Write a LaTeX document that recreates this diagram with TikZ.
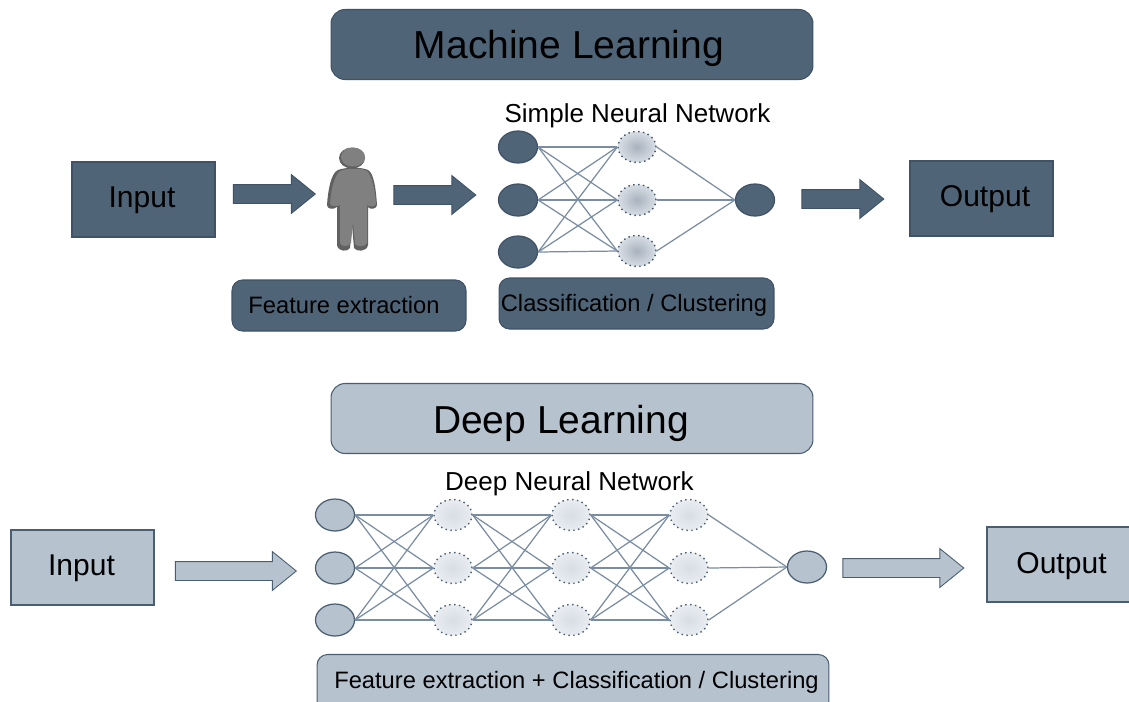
\documentclass[tikz,border=0pt]{standalone}
\usepackage{fontspec}
\setmainfont{Liberation Sans}
\usetikzlibrary{shapes.arrows,shapes.geometric}
\definecolor{mldark}{HTML}{506478}
\definecolor{mlline}{HTML}{3F5266}
\definecolor{dllight}{HTML}{B7C2CF}
\definecolor{dlline}{HTML}{4A5E72}
\definecolor{edgeblue}{HTML}{7A8DA2}
\tikzset{
  titlebox/.style={draw=#1, rounded corners=8pt, line width=0.6pt, minimum width=9.64cm, minimum height=1.4cm, inner sep=0pt},
  iobox/.style={draw=#1, line width=0.6pt, minimum width=2.86cm, minimum height=1.5cm, inner sep=0pt},
  infobox/.style={draw=#1, rounded corners=6pt, line width=0.6pt, inner sep=0pt},
  blockarrow/.style={single arrow, draw=#1, line width=0.5pt, inner xsep=0pt, inner ysep=0.18cm, single arrow head extend=0.2cm, single arrow tip angle=78, minimum height=1.64cm, anchor=center},
  inneuron/.style={ellipse, draw=#1, line width=0.7pt, minimum width=0.78cm, minimum height=0.64cm, inner sep=0pt},
  midneuron/.style={ellipse, draw=#1, dotted, line width=0.8pt, minimum width=0.76cm, minimum height=0.62cm, inner sep=0pt},
  edge/.style={draw=edgeblue, line width=0.7pt},
  titletext/.style={font=\fontsize{22.2}{24}\selectfont, text=black},
  iotext/.style={font=\fontsize{17.1}{20}\selectfont, text=black},
  nettext/.style={font=\fontsize{14.8}{18}\selectfont, text=black},
  smalltext/.style={font=\fontsize{13.5}{16}\selectfont, text=black},
}
\begin{document}
\begin{tikzpicture}[x=0.02cm, y=-0.02cm]
  \clip (0,0) rectangle (1129,701);
  \fill[white] (0,0) rectangle (1129,701);

  % Machine learning row
  \node[titlebox=mlline, fill=mldark] (mltitle) at (572,44.5) {};
  \node[titletext] (mltitlelabel) at (569,48.5) {Machine Learning};
  \node[iobox=mlline, fill=mldark] (mlinput) at (143.5,199.5) {};
  \node[iotext] (mlinputlabel) at (142,200.5) {Input};
  \node[iobox=mlline, fill=mldark] (mloutput) at (981.5,198.5) {};
  \node[iotext] (mloutputlabel) at (985,199.5) {Output};
  \node[blockarrow=mlline, fill=mldark] (mlarrowa) at (268.5,194) {};
  \node[blockarrow=mlline, fill=mldark] (mlarrowb) at (429,195) {};
  \node[blockarrow=mlline, fill=mldark] (mlarrowc) at (837,199) {};
  \node[infobox=mlline, fill=mldark, minimum width=4.68cm, minimum height=1.02cm] (mlfeature) at (349,305.5) {};
  \node[smalltext] (mlfeaturelabel) at (344,305.5) {Feature extraction};
  \node[infobox=mlline, fill=mldark, minimum width=5.5cm, minimum height=1.02cm] (mlclass) at (636.5,303.5) {};
  \node[smalltext] (mlclasslabel) at (634,305) {Classification / Clustering};
  \node[nettext] (mlnet) at (637.5,116) {Simple Neural Network};

  % Person
  \fill[black!62] (352,158) ellipse (13 and 10.5);
  \fill[black!50] (353,157) ellipse (12 and 9.5);
  \fill[black!62] (338,170) .. controls (345,167) and (362,167) .. (368,170)
    .. controls (374,173) and (376,190) .. (377,205) .. controls (377,209) and (370,210) .. (368,207)
    -- (368,245) .. controls (367,252) and (356,252) .. (354,248) -- (352,225)
    -- (350,248) .. controls (348,252) and (338,252) .. (337,245)
    -- (337,207) .. controls (333,210) and (327,209) .. (327,205)
    .. controls (328,190) and (331,173) .. (338,170) -- cycle;
  \fill[black!50] (340,171) .. controls (347,168) and (362,168) .. (367,171)
    .. controls (372,176) and (375,190) .. (376,204) .. controls (375,207) and (370,207) .. (367,205)
    -- (367,243) .. controls (366,247) and (357,247) .. (355,244) -- (353,222)
    -- (351,243) .. controls (349,247) and (341,247) .. (340,243)
    -- (340,205) .. controls (336,207) and (331,206) .. (330,204)
    .. controls (331,190) and (334,176) .. (340,171) -- cycle;

  % Simple network
  \foreach \i/\y in {1/147,2/200,3/252}
    \node[inneuron=mlline, fill=mldark] (mla\i) at (518,\y) {};
  \foreach \i/\y in {1/147,2/200,3/251}
    \node[midneuron=mlline, inner color=dllight!92!black, outer color=dllight!55!white] (mlb\i) at (637,\y) {};
  \node[inneuron=mlline, fill=mldark] (mlc) at (755,200) {};
  \foreach \i in {1,2,3} {
    \foreach \j in {1,2,3}
      \draw[edge] (mla\i.east) -- (mlb\j.west);
    \draw[edge] (mlb\i.east) -- (mlc.west);
  }

  % Deep learning row
  \node[titlebox=dlline, fill=dllight] (dltitle) at (572,418.5) {};
  \node[titletext] (dltitlelabel) at (561,423) {Deep Learning};
  \node[iobox=dlline, fill=dllight] (dlinput) at (82.5,567.5) {};
  \node[iotext] (dlinputlabel) at (81.5,568.5) {Input};
  \node[iobox=dlline, fill=dllight] (dloutput) at (1058.5,564.5) {};
  \node[iotext] (dloutputlabel) at (1061.5,566.5) {Output};
  \node[blockarrow=dlline, fill=dllight, minimum height=2.42cm] (dlarrowa) at (230,571) {};
  \node[blockarrow=dlline, fill=dllight, minimum height=2.42cm] (dlarrowb) at (897.5,568) {};
  \node[infobox=dlline, fill=dllight, minimum width=10.24cm, minimum height=1.3cm] (dlall) at (573,687) {};
  \node[smalltext] (dlalllabel) at (576.5,682) {Feature extraction + Classification / Clustering};
  \node[nettext] (dlnet) at (569.5,484) {Deep Neural Network};

  % Deep network
  \foreach \i/\y in {1/515,2/568,3/620}
    \node[inneuron=dlline, fill=dllight] (dla\i) at (335,\y) {};
  \foreach \l/\x in {b/453,c/571,d/689}
    \foreach \i/\y in {1/515,2/568,3/620}
      \node[midneuron=dlline, inner color=dllight!55!white, outer color=dllight!30!white] (dl\l\i) at (\x,\y) {};
  \node[inneuron=dlline, fill=dllight] (dle) at (807,567) {};
  \foreach \p/\q in {a/b,b/c,c/d}
    \foreach \i in {1,2,3}
      \foreach \j in {1,2,3}
        \draw[edge] (dl\p\i.east) -- (dl\q\j.west);
  \foreach \i in {1,2,3}
    \draw[edge] (dld\i.east) -- (dle.west);
\end{tikzpicture}
\end{document}
